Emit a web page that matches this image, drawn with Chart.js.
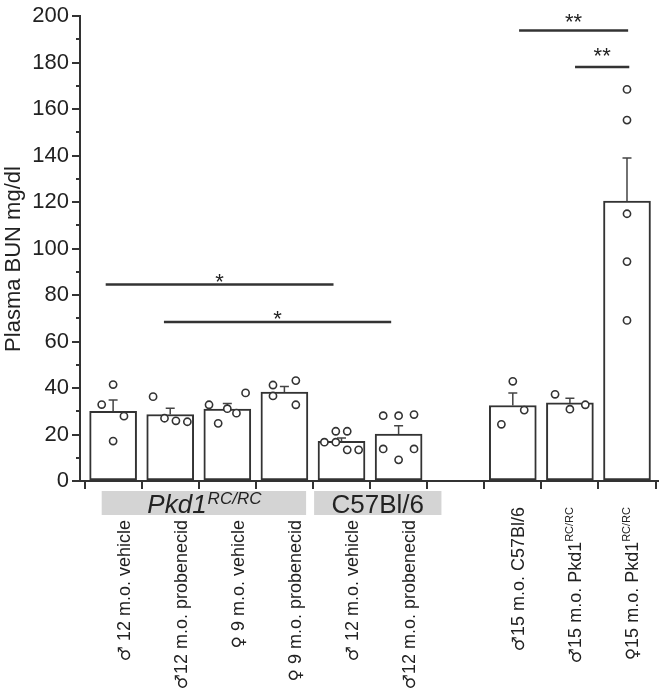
<!DOCTYPE html>
<html><head><meta charset="utf-8">
<script src="https://cdn.jsdelivr.net/npm/chart.js@4.4.0/dist/chart.umd.min.js"></script>
<style>html,body{margin:0;padding:0;background:#fff;}</style>
</head><body>
<canvas id="c" width="664" height="689" style="width:664px;height:689px;display:block"></canvas>
<script>
// ---- data ----
const barX = [0, 1, 2, 3, 4, 5, 7, 8, 9];
const tickPos = [0, 1, 2, 3, 4, 5, 6, 7, 8, 9];
const labelSex = ['♂', '♂', '♀', '♀', '♂', '♂', '♂', '♂', '♀'];
const labelMain = [' 12 m.o. vehicle', '12 m.o. probenecid', ' 9 m.o. vehicle', ' 9 m.o. probenecid',
  ' 12 m.o. vehicle', '12 m.o. probenecid', '15 m.o. C57Bl/6', '15 m.o. Pkd1', '15 m.o. Pkd1'];
const labelSup = ['', '', '', '', '', '', '', 'RC/RC', 'RC/RC'];
const means = [30.0, 28.6, 30.9, 38.3, 17.1, 20.2, 32.5, 33.6, 120.4];
const sem = [4.9, 2.7, 2.4, 2.4, 1.4, 3.6, 5.4, 2.0, 18.6];
const points = [
  [41.5, 32.9, 27.9, 17.2],
  [36.3, 27.0, 25.9, 25.5],
  [32.8, 31.1, 29.2, 37.9, 24.8],
  [41.3, 36.6, 43.2, 32.8],
  [16.7, 16.7, 21.4, 21.4, 13.4, 13.4],
  [28.1, 28.1, 28.6, 13.8, 13.8, 9.1],
  [42.9, 30.5, 24.4],
  [37.3, 30.9, 32.8],
  [168.5, 155.3, 115.0, 94.4, 69.1]
];
const jitter = [
  [0, -0.2, 0.19, 0],
  [-0.3, -0.1, 0.1, 0.3],
  [-0.32, 0, 0.16, 0.32, -0.16],
  [-0.2, -0.2, 0.2, 0.2],
  [-0.3, -0.1, -0.1, 0.1, 0.1, 0.3],
  [-0.27, 0, 0.27, -0.27, 0.27, 0],
  [0, 0.2, -0.2],
  [-0.26, 0, 0.27],
  [0, 0, 0, 0, 0]
];
const yMin = 0, yMax = 200, yStep = 20, yMinorStep = 10;
const yTitle = 'Plasma BUN mg/dl';
const sigFrom = [-0.13, 0.89, 7.11, 8.09];
const sigTo = [3.86, 4.87, 9.02, 9.04];
const sigY = [84.5, 68.4, 193.9, 178.1];
const sigText = ['*', '*', '**', '**'];
const sigTextY = [88.0, 72.3, 200.0, 185.3];
const groupName = ['Pkd1', 'C57Bl/6'];
const groupSup = ['RC/RC', ''];
const groupItalic = [true, false];
const groupFrom = [-0.2, 3.52];
const groupTo = [3.38, 5.75];

// ---- styling ----
const FONT = "'Liberation Sans', Arial, 'DejaVu Sans', sans-serif";
const SYM = "'DejaVu Sans', sans-serif";
const INK = '#333333';
const TXT = '#222222';

const barData = barX.map((x, i) => ({ x: x, y: means[i] }));
const ptData = [];
points.forEach((arr, i) => arr.forEach((v, j) => ptData.push({ x: barX[i] + jitter[i][j], y: v })));
const sigSets = sigY.map((y, i) => ({
  type: 'line',
  data: [{ x: sigFrom[i], y: y }, { x: sigTo[i], y: y }],
  borderColor: INK, borderWidth: 2.5, pointRadius: 0, fill: false, order: 2
}));

const overlay = {
  id: 'overlay',
  afterDatasetDraw(chart, args) {
    if (args.index !== 0) return;
    const ctx = chart.ctx, xs = chart.scales.x, ys = chart.scales.y;
    ctx.save();
    ctx.strokeStyle = '#444';
    ctx.lineWidth = 1.5;
    barX.forEach((x, i) => {
      const px = xs.getPixelForValue(x);
      const y0 = ys.getPixelForValue(means[i]);
      const y1 = ys.getPixelForValue(means[i] + sem[i]);
      ctx.beginPath();
      ctx.moveTo(px, y0); ctx.lineTo(px, y1);
      ctx.moveTo(px - 4.5, y1); ctx.lineTo(px + 4.5, y1);
      ctx.stroke();
    });
    ctx.restore();
  },
  afterDraw(chart) {
    const ctx = chart.ctx, xs = chart.scales.x, ys = chart.scales.y;
    ctx.save();
    // minor y ticks
    const ax = chart.chartArea.left;
    ctx.strokeStyle = INK; ctx.lineWidth = 2;
    for (let v = yMin + yMinorStep; v < yMax; v += yStep) {
      const py = Math.round(ys.getPixelForValue(v));
      ctx.beginPath(); ctx.moveTo(ax - 4, py); ctx.lineTo(ax, py); ctx.stroke();
    }
    // y title
    ctx.save();
    ctx.fillStyle = TXT;
    ctx.font = '22px ' + FONT;
    ctx.textAlign = 'center'; ctx.textBaseline = 'middle';
    ctx.translate(14, 259);
    ctx.rotate(-Math.PI / 2);
    ctx.fillText(yTitle, 0, 0);
    ctx.restore();
    // significance text
    ctx.fillStyle = TXT;
    ctx.textAlign = 'center'; ctx.textBaseline = 'alphabetic';
    const sf = 22;
    ctx.font = sf + 'px ' + FONT;
    sigText.forEach((t, i) => {
      const px = (xs.getPixelForValue(sigFrom[i]) + xs.getPixelForValue(sigTo[i])) / 2;
      const py = ys.getPixelForValue(sigTextY[i]) + 0.58 * sf;
      ctx.fillText(t, px, py);
    });
    // group boxes
    const boxTop = chart.chartArea.bottom + 10, boxH = 24;
    groupName.forEach((g, i) => {
      const x0 = xs.getPixelForValue(groupFrom[i]);
      const x1 = xs.getPixelForValue(groupTo[i]);
      ctx.fillStyle = '#d4d4d4';
      ctx.fillRect(x0, boxTop, x1 - x0, boxH);
      const fm = (groupItalic[i] ? 'italic ' : '') + '26px ' + FONT;
      const fs = (groupItalic[i] ? 'italic ' : '') + '17px ' + FONT;
      ctx.font = fm; const w1 = ctx.measureText(g).width;
      ctx.font = fs; const w2 = groupSup[i] ? ctx.measureText(groupSup[i]).width : 0;
      const start = (x0 + x1) / 2 - (w1 + w2) / 2;
      const base = boxTop + 22;
      ctx.fillStyle = TXT; ctx.textAlign = 'left';
      ctx.font = fm; ctx.fillText(g, start, base);
      if (groupSup[i]) { ctx.font = fs; ctx.fillText(groupSup[i], start + w1 + 1, base - 9); }
    });
    // rotated category labels
    labelMain.forEach((t, i) => {
      const late = barX[i] > 6;
      const px = xs.getPixelForValue(barX[i]) + (late ? 5 : 10);
      const top = late ? 507 : 520;
      const fm = '18px ' + FONT, fs = '11px ' + FONT, fy = '17px ' + SYM;
      ctx.font = fy; const w0 = ctx.measureText(labelSex[i]).width;
      ctx.font = fm; const w1 = ctx.measureText(t).width;
      ctx.font = fs; const w2 = labelSup[i] ? ctx.measureText(labelSup[i]).width : 0;
      const tot = w0 + w1 + w2;
      ctx.save();
      ctx.translate(px, top);
      ctx.rotate(-Math.PI / 2);
      ctx.textAlign = 'left'; ctx.textBaseline = 'alphabetic';
      ctx.fillStyle = TXT;
      ctx.font = fy; ctx.fillText(labelSex[i], -tot, 6.5);
      ctx.font = fm; ctx.fillText(t, -tot + w0, 6.5);
      if (labelSup[i]) { ctx.font = fs; ctx.fillText(labelSup[i], -w2, -1.5); }
      ctx.restore();
    });
    ctx.restore();
  }
};

new Chart(document.getElementById('c'), {
  type: 'bar',
  data: {
    datasets: [
      { type: 'bar', data: barData, backgroundColor: '#ffffff', borderColor: INK, borderWidth: 2,
        borderSkipped: false, barThickness: 47, order: 3 },
      { type: 'scatter', data: ptData, pointRadius: 3.6, pointBorderWidth: 1.6, pointBorderColor: INK,
        pointBackgroundColor: '#ffffff', showLine: false, order: 1 },
      ...sigSets
    ]
  },
  options: {
    responsive: false, animation: false, devicePixelRatio: 1,
    layout: { padding: { top: 13, right: 4, left: 0, bottom: 0 } },
    plugins: { legend: { display: false }, tooltip: { enabled: false } },
    scales: {
      x: {
        type: 'linear', min: -0.58, max: 9.55, offset: false,
        afterBuildTicks: s => { s.ticks = tickPos.map(v => ({ value: v })); },
        afterFit: s => { s.height = 208; },
        ticks: { callback: () => '', font: { size: 1 } },
        grid: { drawOnChartArea: false, drawTicks: true, tickLength: 8, color: INK, lineWidth: 2 },
        border: { color: INK, width: 2 }
      },
      y: {
        min: yMin, max: yMax,
        afterFit: s => { s.width = 80; },
        ticks: { stepSize: yStep, font: { size: 22, family: FONT }, color: TXT, padding: 3 },
        grid: { drawOnChartArea: false, tickLength: 8, color: INK, lineWidth: 2 },
        border: { color: INK, width: 2 },
        title: { display: false }
      }
    }
  },
  plugins: [overlay]
});
</script>
</body></html>
